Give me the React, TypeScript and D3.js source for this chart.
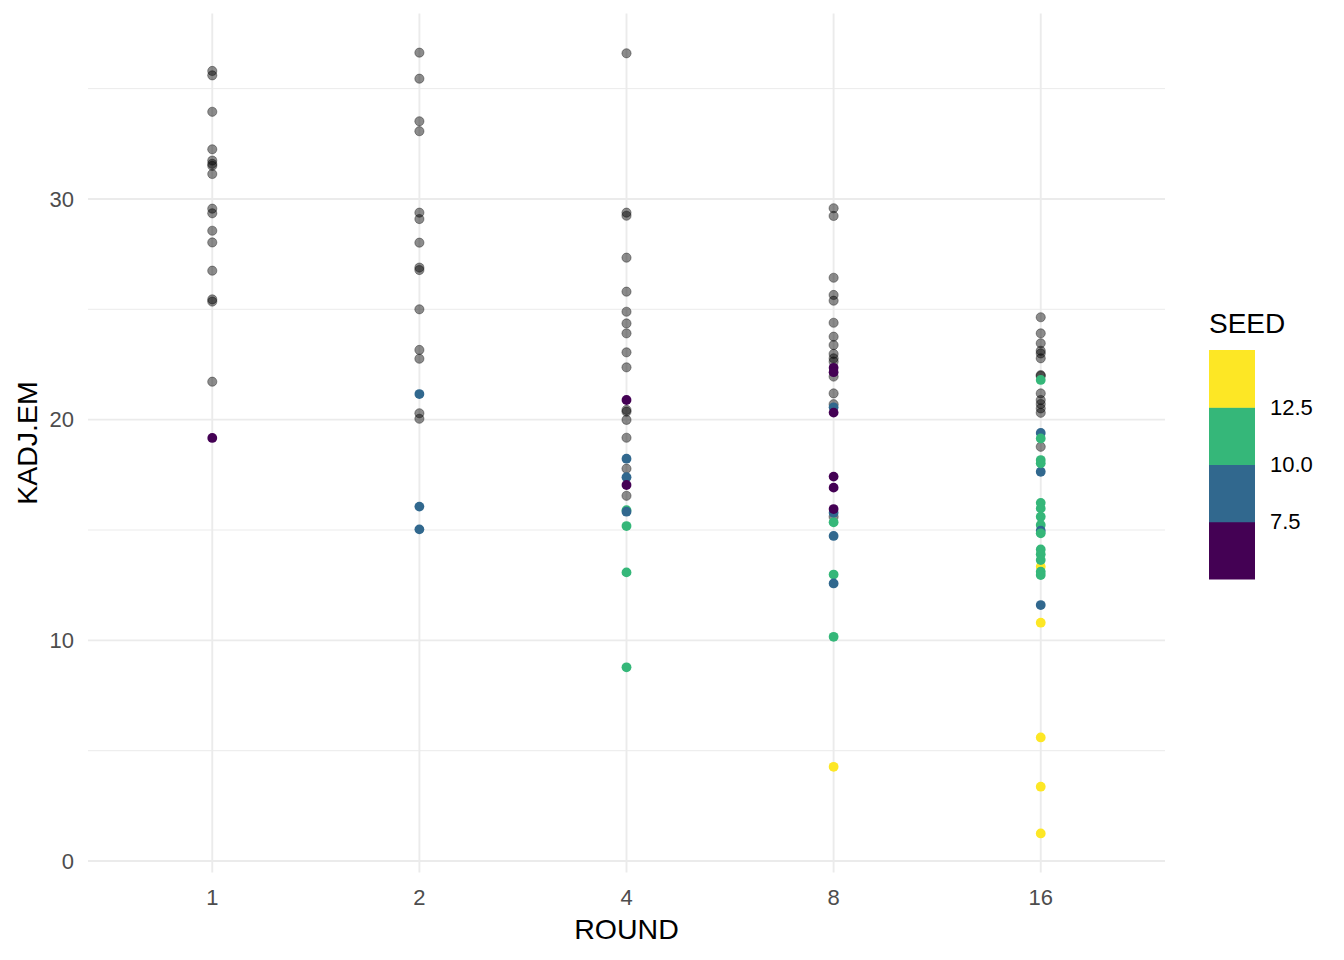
import React from "react";
import * as d3 from "d3";

// ---- data ----
const rounds = ["1", "2", "4", "8", "16"];

// KADJ.EM values for points without SEED (drawn grey)
const greyR1 = [35.8, 35.6, 33.95, 32.25, 31.74, 31.59, 31.5, 31.13, 29.56, 29.35, 28.56, 28.03, 26.75, 25.45, 25.35, 21.72];
const greyR2 = [36.63, 35.45, 33.52, 33.07, 29.38, 29.09, 28.02, 26.89, 26.78, 25.0, 23.16, 22.76, 20.29, 20.04];
const greyR4 = [36.6, 29.38, 29.24, 27.34, 25.8, 24.89, 24.36, 23.91, 23.05, 22.37, 20.44, 20.36, 19.99, 19.18, 17.78, 16.55];
const greyR8 = [29.58, 29.23, 26.43, 25.65, 25.39, 24.39, 23.76, 23.38, 22.98, 22.78, 22.63, 21.95, 21.19, 20.7, 15.6];
const greyR16 = [24.64, 23.91, 23.46, 23.12, 23.0, 22.78, 22.02, 21.98, 21.19, 20.89, 20.71, 20.51, 20.31, 18.77];

// KADJ.EM values with SEED (coloured)
const seedValR1 = [19.17];
const seedR1 = [6];
const seedValR2 = [21.16, 16.06, 15.03];
const seedR2 = [9, 9, 9];
const seedValR4 = [20.89, 18.23, 17.39, 17.04, 15.9, 15.83, 15.18, 13.08, 8.78];
const seedR4 = [6, 9, 9, 6, 11, 9, 11, 11, 11];
const seedValR8 = [22.35, 22.15, 20.56, 20.32, 17.42, 16.92, 15.78, 15.95, 15.35, 14.73, 12.98, 12.58, 10.16, 4.27];
const seedR8 = [6, 6, 9, 6, 6, 6, 9, 6, 11, 9, 11, 9, 11, 14];
const seedValR16 = [21.8, 19.4, 19.15, 18.17, 17.64, 18.02, 16.23, 15.98, 15.6, 15.23, 14.97, 14.85, 14.12, 13.9, 13.34, 13.64, 13.11, 12.96, 11.6, 10.8, 5.6, 3.37, 1.25];
const seedR16 = [11, 9, 11, 11, 9, 11, 11, 11, 11, 11, 9, 11, 11, 11, 14, 11, 11, 11, 9, 14, 14, 14, 14];

const greyByRound = [greyR1, greyR2, greyR4, greyR8, greyR16];
const seedValsByRound = [seedValR1, seedValR2, seedValR4, seedValR8, seedValR16];
const seedsByRound = [seedR1, seedR2, seedR4, seedR8, seedR16];

const yMajorTicks = [0, 10, 20, 30];
const yMinorTicks = [5, 15, 25, 35];
const seedBreaks = [7.5, 10, 12.5];
const seedBreakLabels = ["7.5", "10.0", "12.5"];
const viridis4 = ["#440154", "#31688E", "#35B779", "#FDE725"];

export default function App() {
  const W = 1344;
  const H = 960;
  const left = 88;
  const right = 1165;
  const top = 13.6;
  const bottom = 872.5;

  const x = d3.scalePoint<string>().domain(rounds).range([left, right]).padding(0.6);

  const allVals = [...greyByRound.flat(), ...seedValsByRound.flat()];
  const [mn, mx] = d3.extent(allVals) as [number, number];
  const pad = (mx - mn) * 0.05;
  const y = d3.scaleLinear().domain([mn - pad, mx + pad]).range([bottom, top]);

  const color = d3.scaleThreshold<number, string>().domain(seedBreaks).range(viridis4);

  const font = "'Liberation Sans', Arial, sans-serif";

  // legend
  const legX = 1209;
  const legW = 46;
  const legTop = 350;
  const legBottom = 579;
  const legY = d3.scaleBand<number>().domain([3, 2, 1, 0]).range([legTop, legBottom]);

  return (
    <svg width={W} height={H} style={{ position: "absolute", left: 0, top: 0, background: "#fff" }} fontFamily={font}>
      <rect x={0} y={0} width={W} height={H} fill="#fff" />
      {/* grid */}
      {yMinorTicks.map((t) => (
        <line key={"mn" + t} x1={left} x2={right} y1={y(t)} y2={y(t)} stroke="#ebebeb" strokeWidth={1} />
      ))}
      {yMajorTicks.map((t) => (
        <line key={"mj" + t} x1={left} x2={right} y1={y(t)} y2={y(t)} stroke="#ebebeb" strokeWidth={1.9} />
      ))}
      {rounds.map((r) => (
        <line key={"v" + r} x1={x(r)} x2={x(r)} y1={top} y2={bottom} stroke="#ebebeb" strokeWidth={1.9} />
      ))}
      {/* grey points */}
      {rounds.map((r, i) =>
        greyByRound[i].map((v, j) => (
          <circle
            key={"g" + r + "-" + j}
            cx={x(r)}
            cy={y(v)}
            r={4.6}
            fill="#000"
            fillOpacity={0.45}
            stroke="#000"
            strokeOpacity={0.35}
            strokeWidth={1}
          />
        ))
      )}
      {/* coloured points */}
      {rounds.map((r, i) =>
        seedValsByRound[i].map((v, j) => (
          <circle key={"c" + r + "-" + j} cx={x(r)} cy={y(v)} r={4.9} fill={color(seedsByRound[i][j])} />
        ))
      )}
      {/* y axis labels */}
      {yMajorTicks.map((t) => (
        <text key={"yl" + t} x={74} y={y(t)} dy="0.35em" textAnchor="end" fontSize={22} fill="#4d4d4d">
          {t}
        </text>
      ))}
      {/* x axis labels */}
      {rounds.map((r) => (
        <text key={"xl" + r} x={x(r)} y={897} dy="0.35em" textAnchor="middle" fontSize={22} fill="#4d4d4d">
          {r}
        </text>
      ))}
      {/* axis titles */}
      <text x={(left + right) / 2} y={929} dy="0.35em" textAnchor="middle" fontSize={28.5} fill="#000">
        ROUND
      </text>
      <text
        transform={`translate(27,${(top + bottom) / 2}) rotate(-90)`}
        dy="0.35em"
        textAnchor="middle"
        fontSize={28.5}
        fill="#000"
      >
        KADJ.EM
      </text>
      {/* legend */}
      <text x={1209} y={333} fontSize={28} fill="#000">
        SEED
      </text>
      {viridis4.map((c, k) => (
        <rect key={"lb" + k} x={legX} y={legY(k)} width={legW} height={legY.bandwidth() + 0.5} fill={c} />
      ))}
      {seedBreakLabels.map((lab, k) => (
        <text key={"ll" + k} x={1270} y={legY(k)!} dy="0.35em" fontSize={22} fill="#000">
          {lab}
        </text>
      ))}
    </svg>
  );
}
